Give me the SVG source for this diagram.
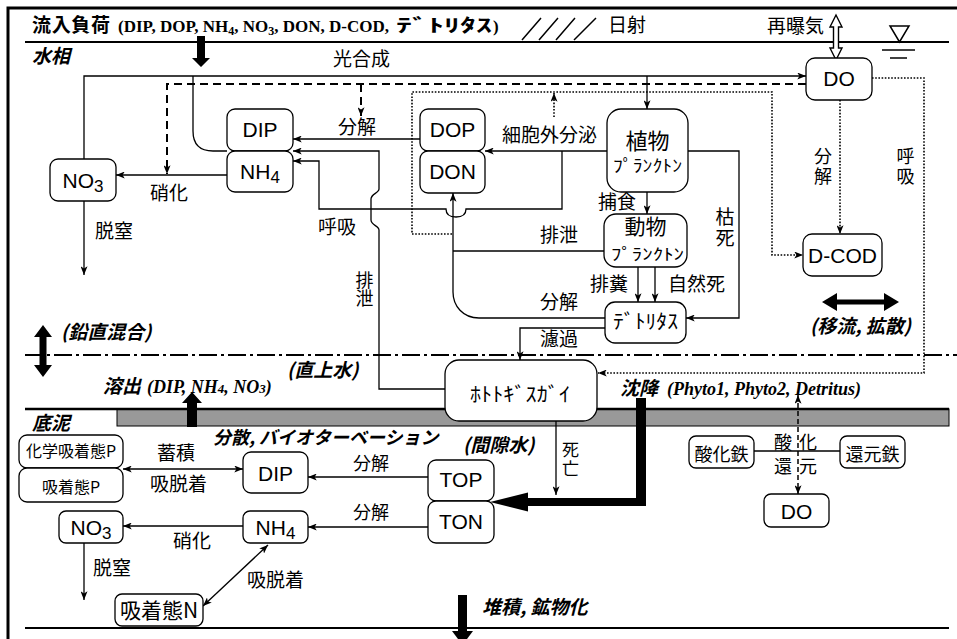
<svg xmlns="http://www.w3.org/2000/svg" width="957" height="639" viewBox="0 0 957 639">
<style>
.bx{fill:#fff;stroke:#000;stroke-width:1.3}
.ln{fill:none;stroke:#000;stroke-width:1.3}
.dsh{fill:none;stroke:#000;stroke-width:2;stroke-dasharray:8 5}
.dsh2{fill:none;stroke:#000;stroke-width:1.5;stroke-dasharray:5 3}
.dot{fill:none;stroke:#000;stroke-width:1.6;stroke-dasharray:1.6 1.6}
.thk{fill:#000;stroke:none}
.en{font-family:"Liberation Sans",Arial,sans-serif;font-size:21px;fill:#000}
.jp{font-family:"Noto Sans CJK JP",sans-serif;font-size:19px;fill:#000}
.vt{font-family:"Noto Sans CJK JP",sans-serif;font-size:18px;fill:#000;writing-mode:vertical-rl;letter-spacing:2px}
.bi{font-family:"Noto Sans CJK JP",sans-serif;font-size:19px;font-weight:bold;font-style:italic;fill:#000}
.tb{font-family:"Liberation Serif","Noto Sans CJK JP",serif;font-weight:bold;font-size:17px;fill:#000}
.tbi{font-family:"Liberation Serif",serif;font-weight:bold;font-style:italic;font-size:18px;fill:#000}
.mid{text-anchor:middle}
</style>
<defs>
<marker id="ar" viewBox="0 0 10 8" refX="10" refY="4" markerWidth="9" markerHeight="7" markerUnits="userSpaceOnUse" orient="auto-start-reverse"><path d="M0,0 L10,4 L0,8 L2.5,4 z" fill="#000"/></marker>
</defs>

<g id="frame">
<path d="M8,639 V8 H957" fill="none" stroke="#000" stroke-width="3"/>
<line x1="25" y1="42" x2="949" y2="42" stroke="#000" stroke-width="2"/>
<line x1="25" y1="355" x2="957" y2="355" stroke="#000" stroke-width="2" stroke-dasharray="18 4 3 4"/>
<rect x="117" y="409" width="832" height="17" fill="#999" stroke="#000" stroke-width="1"/>
<line x1="25" y1="409" x2="949" y2="409" stroke="#000" stroke-width="2.5"/>
<line x1="25" y1="628" x2="949" y2="628" stroke="#000" stroke-width="2"/>
<polygon points="890,26 909,26 899.5,42" fill="none" stroke="#000" stroke-width="1.5"/>
<line x1="882" y1="50" x2="915" y2="50" stroke="#000" stroke-width="1.5"/>
<line x1="890" y1="58" x2="907" y2="58" stroke="#000" stroke-width="1.5"/>
<path d="M522,40 L541,18 M539,40 L558,18 M556,40 L575,18 M574,40 L596,18" stroke="#000" stroke-width="1.5" fill="none"/>
</g>

<g id="labels-region">
<text class="bi" x="32" y="32" style="font-style:normal" textLength="78" lengthAdjust="spacing">流入負荷</text>
<text class="tb" x="118" y="32">(DIP, DOP, NH<tspan font-size="12" dy="3">4</tspan><tspan dy="-3">, NO</tspan><tspan font-size="12" dy="3">3</tspan><tspan dy="-3">, DON, D-COD,</tspan></text>
<text class="bi" x="396" y="32" style="font-style:normal;font-size:18px" textLength="96" lengthAdjust="spacingAndGlyphs">ﾃﾞﾄﾘﾀｽ</text>
<text class="tb" x="493" y="32">)</text>
<text class="jp" x="608" y="32">日射</text>
<text class="jp" x="767" y="33">再曝気</text>
<text class="bi" x="32" y="63">水相</text>
<text class="bi" x="61" y="339">(鉛直混合)</text>
<text class="bi" x="810" y="333">(移流, 拡散)</text>
<text class="bi" x="287" y="377">(直上水)</text>
<text class="bi" x="103" y="393">溶出</text>
<text class="tbi" x="147" y="393">(DIP, NH<tspan font-size="13">4</tspan>, NO<tspan font-size="13">3</tspan>)</text>
<text class="bi" x="620" y="395">沈降</text>
<text class="tbi" x="667" y="395">(Phyto1, Phyto2, Detritus)</text>
<text class="bi" x="32" y="430">底泥</text>
<text class="bi" x="213" y="444" style="font-size:18px">分散, バイオターベーション</text>
<text class="bi" x="463" y="452">(間隙水)</text>
<text class="bi" x="482" y="614">堆積, 鉱物化</text>
</g>

<g id="thick-arrows">
<polygon class="thk" points="197,36 205,36 205,58 210,58 201,67 192,58 197,58"/>
<polygon class="thk" points="187,427 197,427 197,403 202,403 192,392 182,403 187,403"/>
<polygon class="thk" points="458,595 467,595 467,631 473,631 462.5,645 452,631 458,631"/>
<polygon class="thk" points="636,398 646,398 646,506 528,506 528,511.5 490,502 528,492.5 528,498 636,498"/>
<polygon class="thk" points="43,325 52,337 46.5,337 46.5,365 52,365 43,377 34,365 39.5,365 39.5,337 34,337"/>
<polygon class="thk" points="822,302 837,293 837,299.5 884,299.5 884,293 899,302 884,311 884,304.5 837,304.5 837,311"/>
<polygon points="836,15 842,27 838.5,27 838.5,48 842,48 836,60 830,48 833.5,48 833.5,27 830,27" fill="#fff" stroke="#000" stroke-width="1.4"/>
</g>

<g id="connectors">
<path class="ln" d="M84,159 V76 H806" marker-end="url(#ar)"/>
<path class="ln" d="M647,76 V109" marker-end="url(#ar)"/>
<path class="ln" d="M193,76 V131 Q193,151 213,151 H227"/>
<path class="dsh" d="M806,84 H167 V174" marker-end="url(#ar)"/>
<path class="dsh" d="M361,84 V116" marker-end="url(#ar)"/>
<path class="dot" d="M872,78 H924 V373 H598" marker-end="url(#ar)"/>
<path class="dot" d="M840,100 V234" marker-end="url(#ar)"/>
<path class="dot" d="M554,117 V93" marker-end="url(#ar)"/>
<path class="dot" d="M452,234 H412 V92 H772 V255 H803" marker-end="url(#ar)"/>
<path class="ln" d="M227,175 H116" marker-end="url(#ar)"/>
<path class="ln" d="M84,201 V275" marker-end="url(#ar)"/>
<path class="ln" d="M420,139 H293" marker-end="url(#ar)"/>
<path class="ln" d="M445,389 H379 V230 C379,226 371,225 371,220 V199 C371,194 379,193 379,189 V151 H293" marker-end="url(#ar)"/>
<path class="ln" d="M562,151 V209 H466 C466,215 462,217 456,217 C450,217 446,215 446,209 H319 V161 H293" marker-end="url(#ar)"/>
<path class="ln" d="M607,151 H485" marker-end="url(#ar)"/>
<path class="ln" d="M605,318 H479 C463,318 453,306 453,292 V193" marker-end="url(#ar)"/>
<path class="ln" d="M604,251 H453"/>
<path class="ln" d="M647,192 V214" marker-end="url(#ar)"/>
<path class="ln" d="M638,267 V302" marker-end="url(#ar)"/>
<path class="ln" d="M655,267 V302" marker-end="url(#ar)"/>
<path class="ln" d="M688,151 H739 V318 H686" marker-end="url(#ar)"/>
<path class="ln" d="M605,328 H520 V360" marker-end="url(#ar)"/>
<path class="ln" d="M556,421 V495" marker-end="url(#ar)"/>
<path class="ln" d="M428,477 H308" marker-end="url(#ar)"/>
<path class="ln" d="M428,527 H308" marker-end="url(#ar)"/>
<path class="ln" d="M123,469 H243" marker-start="url(#ar)" marker-end="url(#ar)"/>
<path class="ln" d="M243,526 H123" marker-end="url(#ar)"/>
<path class="ln" d="M84,543 V600" marker-end="url(#ar)"/>
<path class="ln" d="M268,545 L203,606" marker-start="url(#ar)" marker-end="url(#ar)"/>
<path class="ln" d="M754,451 H840"/>
<path class="dsh2" d="M798,395 V494" marker-start="url(#ar)" marker-end="url(#ar)"/>
<text class="jp" x="333" y="65.5">光合成</text>
<text class="jp" x="338" y="133.5">分解</text>
<text class="jp" x="502" y="141.5">細胞外分泌</text>
<text class="jp" x="150" y="200">硝化</text>
<text class="jp" x="95" y="238">脱窒</text>
<text class="jp" x="318" y="233.5">呼吸</text>
<text class="vt" x="364.5" y="271" style="letter-spacing:0">排泄</text>
<text class="jp" x="598" y="209">捕食</text>
<text class="jp" x="540" y="241.5">排泄</text>
<text class="jp" x="590" y="290.5">排糞</text>
<text class="jp" x="668" y="290.5">自然死</text>
<text class="jp" x="540" y="308.5">分解</text>
<text class="jp" x="540" y="345.5">濾過</text>
<text class="vt" x="725" y="207" style="font-size:19px">枯死</text>
<text class="vt" x="823" y="147">分解</text>
<text class="vt" x="905.5" y="147">呼吸</text>
<text class="jp" x="157" y="459.5">蓄積</text>
<text class="jp" x="150" y="491">吸脱着</text>
<text class="jp" x="173" y="547.5">硝化</text>
<text class="jp" x="93" y="574.5">脱窒</text>
<text class="jp" x="247" y="587">吸脱着</text>
<text class="jp" x="353" y="470" style="font-size:18px">分解</text>
<text class="jp" x="353" y="519" style="font-size:18px">分解</text>
<text class="vt" x="570.5" y="441" style="font-size:17px">死亡</text>
<text class="jp" x="774" y="449" style="font-size:18px;letter-spacing:7px">酸化</text>
<text class="jp" x="774" y="473" style="font-size:18px;letter-spacing:7px">還元</text>
</g>

<g id="w-dip"><rect class="bx" x="227" y="109" width="66" height="42" rx="8"/><text class="en mid" x="260" y="137">DIP</text></g>
<g id="w-nh4"><rect class="bx" x="227" y="151" width="66" height="41" rx="8"/><text class="en mid" x="260" y="179">NH<tspan font-size="17" dy="4">4</tspan></text></g>
<g id="w-no3"><rect class="bx" x="50" y="159" width="66" height="42" rx="8"/><text class="en mid" x="83" y="188">NO<tspan font-size="17" dy="4">3</tspan></text></g>
<g id="w-dop"><rect class="bx" x="420" y="109" width="65" height="42" rx="8"/><text class="en mid" x="452.5" y="137">DOP</text></g>
<g id="w-don"><rect class="bx" x="420" y="151" width="65" height="42" rx="8"/><text class="en mid" x="452.5" y="179">DON</text></g>
<g id="phyto"><rect class="bx" x="607" y="109" width="81" height="83" rx="14"/><text class="jp"><tspan class="mid" x="647.5" y="149" style="font-size:22px">植物</tspan><tspan x="613" y="172" style="font-size:17px" textLength="69" lengthAdjust="spacingAndGlyphs">ﾌﾟﾗﾝｸﾄﾝ</tspan></text></g>
<g id="zoo"><rect class="bx" x="604" y="214" width="83" height="53" rx="12"/><text class="jp"><tspan class="mid" x="645.5" y="234" style="font-size:21px">動物</tspan><tspan x="611" y="259.5" style="font-size:16px" textLength="73" lengthAdjust="spacingAndGlyphs">ﾌﾟﾗﾝｸﾄﾝ</tspan></text></g>
<g id="detritus"><rect class="bx" x="605" y="302" width="81" height="41" rx="10"/><text class="jp" x="613" y="329" style="font-size:20px" textLength="65" lengthAdjust="spacingAndGlyphs">ﾃﾞﾄﾘﾀｽ</text></g>
<g id="w-do"><rect class="bx" x="806" y="58" width="66" height="42" rx="9"/><text class="en mid" x="839" y="86">DO</text></g>
<g id="dcod"><rect class="bx" x="803" y="234" width="79" height="42" rx="9"/><text class="en mid" x="842.5" y="263">D-COD</text></g>
<g id="hototogisu"><rect class="bx" x="445" y="360" width="152" height="61" rx="14"/><text class="jp" x="470" y="402" style="font-size:20px" textLength="100" lengthAdjust="spacingAndGlyphs">ﾎﾄﾄｷﾞｽｶﾞｲ</text></g>
<g id="s-chemp"><rect class="bx" x="19" y="435" width="104" height="33" rx="8"/><text class="jp mid" x="71" y="457" style="font-size:16px">化学吸着態P</text></g>
<g id="s-adsp"><rect class="bx" x="19" y="468" width="104" height="34" rx="8"/><text class="jp mid" x="71" y="493" style="font-size:16px">吸着態P</text></g>
<g id="s-dip"><rect class="bx" x="243" y="452" width="65" height="41" rx="8"/><text class="en mid" x="275.5" y="481">DIP</text></g>
<g id="s-no3"><rect class="bx" x="59" y="511" width="64" height="32" rx="7"/><text class="en mid" x="91" y="535">NO<tspan font-size="17" dy="4">3</tspan></text></g>
<g id="s-nh4"><rect class="bx" x="243" y="511" width="65" height="32" rx="7"/><text class="en mid" x="275.5" y="535">NH<tspan font-size="17" dy="4">4</tspan></text></g>
<g id="s-adsn"><rect class="bx" x="115" y="594" width="88" height="32" rx="7"/><text class="jp mid" x="159" y="618" style="font-size:21px">吸着態N</text></g>
<g id="top"><rect class="bx" x="428" y="460" width="66" height="41" rx="8"/><text class="en mid" x="461" y="487">TOP</text></g>
<g id="ton"><rect class="bx" x="428" y="501" width="66" height="42" rx="8"/><text class="en mid" x="461" y="529">TON</text></g>
<g id="fe3"><rect class="bx" x="689" y="436" width="65" height="32" rx="7"/><text class="jp mid" x="721.5" y="461" style="font-size:18px">酸化鉄</text></g>
<g id="fe2"><rect class="bx" x="840" y="436" width="65" height="32" rx="7"/><text class="jp mid" x="872.5" y="461" style="font-size:18px">還元鉄</text></g>
<g id="s-do"><rect class="bx" x="764" y="494" width="65" height="33" rx="7"/><text class="en mid" x="796.5" y="519">DO</text></g>
</svg>
